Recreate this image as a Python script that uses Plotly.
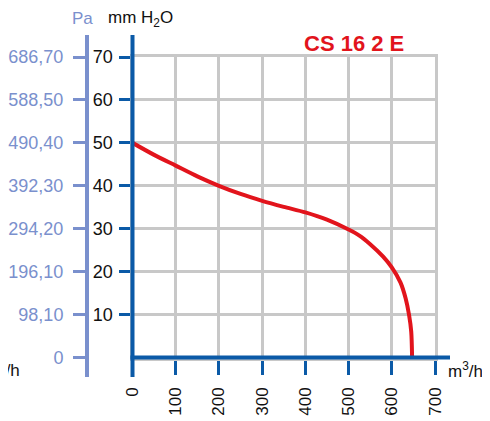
import plotly.graph_objects as go

# ---- data ----
flow = [0, 50, 100, 150, 200, 250, 300, 350, 400, 450, 500, 525, 550, 580, 600, 620, 632, 640, 645, 647]
pressure = [50, 47.2, 44.7, 42.2, 40.0, 38.1, 36.5, 35.1, 33.8, 32.1, 29.8, 28.4, 26.4, 23.5, 21.0, 17.5, 13.8, 9.9, 6.0, 0]
x_ticks = [0, 100, 200, 300, 400, 500, 600, 700]
mm_ticks = [10, 20, 30, 40, 50, 60, 70]
pa_tickvals = [0, 10, 20, 30, 40, 50, 60, 70]
pa_labels = ["0", "98,10", "196,10", "294,20", "392,30", "490,40", "588,50", "686,70"]
title_text = "CS 16 2 E"

# page offset: the browser body has an 8px margin
OFF = 8
W, H = 490 - OFF, 421 - OFF
BLUE = "#0b5aa7"
LBLUE = "#7a90cd"
RED = "#e2141c"
GRID = "#c8c8c8"
FONT = "Liberation Sans, Arial, sans-serif"

# plot area in page pixels
px_l, px_r = 132.5, 435.0
px_t, px_b = 57.0, 357.5
def fx(p): return (p - OFF) / W
def fy(p): return (H - (p - OFF)) / H

fig = go.Figure()
fig.add_trace(go.Scatter(x=flow, y=pressure, mode="lines",
                         line=dict(color=RED, width=4, shape="spline", smoothing=0.8),
                         showlegend=False, hoverinfo="skip"))
fig.add_trace(go.Scatter(x=[None], y=[None], yaxis="y2", showlegend=False, hoverinfo="skip"))

shapes = [
    dict(type="line", xref="paper", yref="paper",
         x0=fx(87), x1=fx(87), y0=fy(377), y1=fy(35),
         line=dict(color=LBLUE, width=4), layer="above"),
    dict(type="line", xref="paper", yref="paper", x0=fx(px_l), x1=fx(px_l),
         y0=fy(377), y1=fy(35),
         line=dict(color=BLUE, width=4), layer="above"),
    dict(type="line", xref="paper", yref="paper", y0=fy(px_b), y1=fy(px_b),
         x0=fx(130.5), x1=fx(450),
         line=dict(color=BLUE, width=4), layer="above"),
]

annotations = [
    dict(text="Pa", x=fx(82), y=fy(18), xref="paper", yref="paper", showarrow=False,
         xanchor="center", yanchor="middle", font=dict(color=LBLUE, size=17, family=FONT)),
    dict(text="mm H<sub>2</sub>O", x=fx(106), y=fy(19), xref="paper", yref="paper", showarrow=False,
         xanchor="left", yanchor="middle", font=dict(color="#111111", size=17, family=FONT)),
    dict(text="<b>" + title_text + "</b>", x=fx(354), y=fy(43), xref="paper", yref="paper",
         showarrow=False, xanchor="center", yanchor="middle",
         font=dict(color=RED, size=22, family=FONT)),
    dict(text="m<sup>3</sup>/h", x=fx(446), y=fy(370), xref="paper", yref="paper", showarrow=False,
         xanchor="left", yanchor="middle", font=dict(color="#111111", size=17, family=FONT)),
    dict(text="<sup>3</sup>/h", x=fx(22), y=fy(369), xref="paper", yref="paper", showarrow=False,
         xanchor="right", yanchor="middle", font=dict(color="#111111", size=17, family=FONT)),
]

fig.update_layout(
    width=W, height=H,
    margin=dict(l=0, r=0, t=0, b=0, autoexpand=False),
    paper_bgcolor="white", plot_bgcolor="white",
    showlegend=False,
    shapes=shapes,
    annotations=annotations,
    xaxis=dict(domain=[fx(px_l), fx(px_r)], range=[0, 700], tickvals=x_ticks,
               ticktext=[str(v) for v in x_ticks], tickangle=-90,
               ticks="outside", ticklen=14, tickwidth=3, tickcolor=BLUE,
               showgrid=True, gridcolor=GRID, gridwidth=3, zeroline=False,
               showline=True, mirror=True, linecolor=GRID, linewidth=3,
               tickfont=dict(size=17, color="#111111", family=FONT), ticklabelstandoff=6,
               fixedrange=True, automargin=False),
    yaxis=dict(domain=[fy(px_b), fy(px_t)], range=[0, 70], tickvals=mm_ticks,
               ticktext=[str(v) for v in mm_ticks],
               ticks="outside", ticklen=11, tickwidth=3, tickcolor=BLUE,
               showgrid=True, gridcolor=GRID, gridwidth=3, zeroline=False,
               showline=True, mirror=True, linecolor=GRID, linewidth=3,
               tickfont=dict(size=18, color="#111111", family=FONT), ticklabelstandoff=2,
               fixedrange=True, automargin=False),
    yaxis2=dict(overlaying="y", anchor="free", position=fx(86), side="left",
                range=[0, 70], tickvals=pa_tickvals, ticktext=pa_labels,
                ticks="outside", ticklen=13, tickwidth=3, tickcolor=LBLUE,
                showgrid=False, zeroline=False, showline=False,
                tickfont=dict(size=18, color=LBLUE, family=FONT), ticklabelstandoff=6,
                fixedrange=True, automargin=False),
)

fig.write_html("out.html", config={"displayModeBar": False})
